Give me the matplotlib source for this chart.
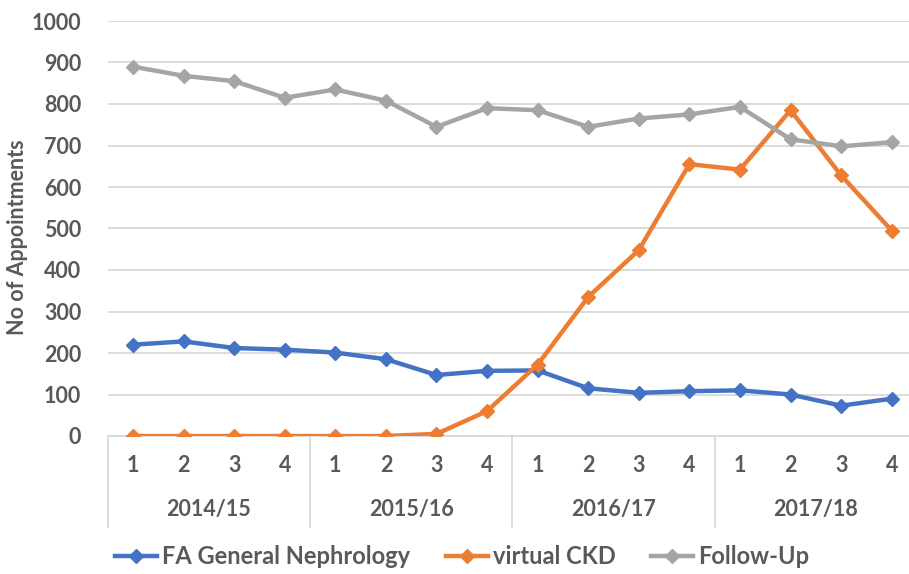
import matplotlib
matplotlib.use("Agg")
import matplotlib.pyplot as plt
import numpy as np

plt.rcParams['font.family'] = ['Lato', 'DejaVu Sans']

years = ["2014/15", "2015/16", "2016/17", "2017/18"]
quarters = ["1", "2", "3", "4"]

fa_general = [220, 228, 212, 208, 201, 185, 147, 157, 158, 115, 104, 108, 110, 100, 73, 90]
virtual_ckd = [0, 0, 0, 0, 0, 0, 5, 60, 172, 335, 448, 655, 642, 785, 628, 495]
follow_up = [890, 868, 855, 815, 835, 808, 745, 790, 785, 745, 765, 775, 793, 715, 698, 708]

txt = "#595959"
grid = "#D9D9D9"
fs = 15.5

fig = plt.figure(figsize=(9.09, 5.74), dpi=100)
ax = fig.add_axes([107.7 / 909, 1 - 436 / 574, (917 - 107.7) / 909, (436 - 21) / 574])

x = np.arange(len(fa_general))
ax.plot(x, fa_general, color="#4472C4", lw=3.2, marker="D", ms=7.5, label="FA General Nephrology", zorder=3)
ax.plot(x, virtual_ckd, color="#ED7D31", lw=3.2, marker="D", ms=7.5, label="virtual CKD", zorder=3)
ax.plot(x, follow_up, color="#A5A5A5", lw=3.2, marker="D", ms=7.5, label="Follow-Up", zorder=3)

ax.set_xlim(-0.5, len(x) - 0.5)
ax.set_ylim(0, 1000)
ax.set_yticks(np.arange(0, 1001, 100))
ax.grid(axis="y", color=grid, lw=1.3)
ax.set_axisbelow(True)
for s in ["top", "right", "left"]:
    ax.spines[s].set_visible(False)
ax.spines["bottom"].set_color(grid)
ax.spines["bottom"].set_linewidth(1.3)
ax.tick_params(axis="y", length=0, pad=19, labelsize=fs, labelcolor=txt)
for t in ax.get_yticklabels():
    t.set_fontweight("bold")
ax.set_xticks([])
fig.text(18 / 909, 1 - 237 / 574, "No of Appointments", rotation=90, ha="center", va="center",
         fontsize=fs, color=txt, fontweight="bold")

# two-level category axis
tr = ax.get_xaxis_transform()
for i, q in enumerate(quarters * len(years)):
    ax.text(i, -0.07, q, transform=tr, ha="center", va="center", fontsize=fs,
            fontweight="bold", color=txt)
for j, yr in enumerate(years):
    ax.text(j * 4 + 1.5, -0.178, yr, transform=tr, ha="center", va="center", fontsize=fs,
            fontweight="bold", color=txt)
for k in range(len(years) + 1):
    ax.plot([k * 4 - 0.5] * 2, [0, -0.22], transform=tr, color=grid, lw=1.3, clip_on=False)

leg = fig.legend(loc="center", bbox_to_anchor=(462 / 909, 1 - 557 / 574), ncol=3, frameon=False,
                 fontsize=17, handlelength=1.8, columnspacing=1.5, handletextpad=0.2)
for t in leg.get_texts():
    t.set_color(txt)
    t.set_fontweight("bold")

fig.savefig("out.png", dpi=100)
